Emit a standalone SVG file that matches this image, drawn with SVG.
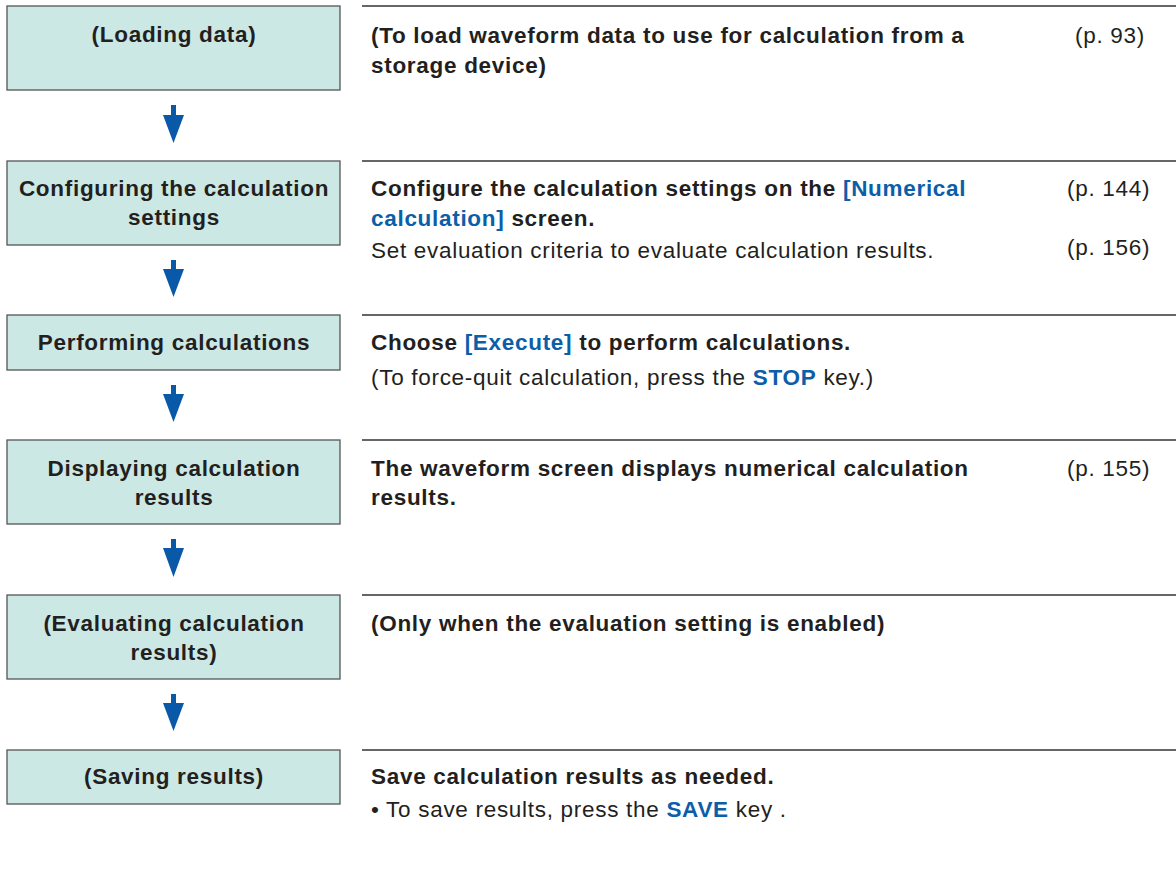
<svg xmlns="http://www.w3.org/2000/svg" width="1176" height="892" viewBox="0 0 1176 892">
<style>
.box{fill:#cce8e5;stroke:#555;stroke-width:1.3}
.t{font-family:"Liberation Sans",Arial,sans-serif;font-size:22.5px;letter-spacing:0.7px;fill:#231f20}
.b{font-weight:bold}
.c{text-anchor:middle}
.blue{fill:#0b5ea8}
.rule{stroke:#333;stroke-width:1.3}
.arr{fill:#0a59a8}
</style>
<rect width="1176" height="892" fill="#fff"/>
<g id="connectors">
<polygon class="arr" points="171,105 176,105 176,115 184,115 173.5,143 163,115 171,115"/>
<polygon class="arr" points="171,260 176,260 176,269 184,269 173.5,297 163,269 171,269"/>
<polygon class="arr" points="171,385 176,385 176,394 184,394 173.5,422 163,394 171,394"/>
<polygon class="arr" points="171,539 176,539 176,548 184,548 173.5,577 163,548 171,548"/>
<polygon class="arr" points="171,694 176,694 176,703 184,703 173.5,731 163,703 171,703"/>
</g>
<g id="node-loading">
<rect class="box" x="7" y="6" width="333" height="84"/>
<text class="t b c" x="174" y="42">(Loading data)</text>
</g>
<g id="node-configuring">
<rect class="box" x="7" y="161" width="333" height="84"/>
<text class="t b c" x="174" y="196">Configuring the calculation</text>
<text class="t b c" x="174" y="225">settings</text>
</g>
<g id="node-performing">
<rect class="box" x="7" y="315" width="333" height="55"/>
<text class="t b c" x="174" y="350">Performing calculations</text>
</g>
<g id="node-displaying">
<rect class="box" x="7" y="440" width="333" height="84"/>
<text class="t b c" x="174" y="476">Displaying calculation</text>
<text class="t b c" x="174" y="505">results</text>
</g>
<g id="node-evaluating">
<rect class="box" x="7" y="595" width="333" height="84"/>
<text class="t b c" x="174" y="631">(Evaluating calculation</text>
<text class="t b c" x="174" y="660">results)</text>
</g>
<g id="node-saving">
<rect class="box" x="7" y="750" width="333" height="54"/>
<text class="t b c" x="174" y="784">(Saving results)</text>
</g>
<g id="desc-loading">
<line class="rule" x1="362" y1="6" x2="1176" y2="6"/>
<text class="t b" x="371" y="43">(To load waveform data to use for calculation from a</text>
<text class="t b" x="371" y="73">storage device)</text>
<text class="t" x="1075" y="43">(p. 93)</text>
</g>
<g id="desc-configuring">
<line class="rule" x1="362" y1="161" x2="1176" y2="161"/>
<text class="t b" x="371" y="196">Configure the calculation settings on the <tspan class="blue">[Numerical</tspan></text>
<text class="t b" x="371" y="226"><tspan class="blue">calculation]</tspan> screen.</text>
<text class="t" x="371" y="258">Set evaluation criteria to evaluate calculation results.</text>
<text class="t" x="1067" y="196">(p. 144)</text>
<text class="t" x="1067" y="255">(p. 156)</text>
</g>
<g id="desc-performing">
<line class="rule" x1="362" y1="315" x2="1176" y2="315"/>
<text class="t b" x="371" y="350">Choose <tspan class="blue">[Execute]</tspan> to perform calculations.</text>
<text class="t" x="371" y="385">(To force-quit calculation, press the <tspan class="b blue">STOP</tspan> key.)</text>
</g>
<g id="desc-displaying">
<line class="rule" x1="362" y1="440" x2="1176" y2="440"/>
<text class="t b" x="371" y="476">The waveform screen displays numerical calculation</text>
<text class="t b" x="371" y="505">results.</text>
<text class="t" x="1067" y="476">(p. 155)</text>
</g>
<g id="desc-evaluating">
<line class="rule" x1="362" y1="595" x2="1176" y2="595"/>
<text class="t b" x="371" y="631">(Only when the evaluation setting is enabled)</text>
</g>
<g id="desc-saving">
<line class="rule" x1="362" y1="750" x2="1176" y2="750"/>
<text class="t b" x="371" y="784">Save calculation results as needed.</text>
<text class="t" x="371" y="817">• To save results, press the <tspan class="b blue">SAVE</tspan> key .</text>
</g>
</svg>
